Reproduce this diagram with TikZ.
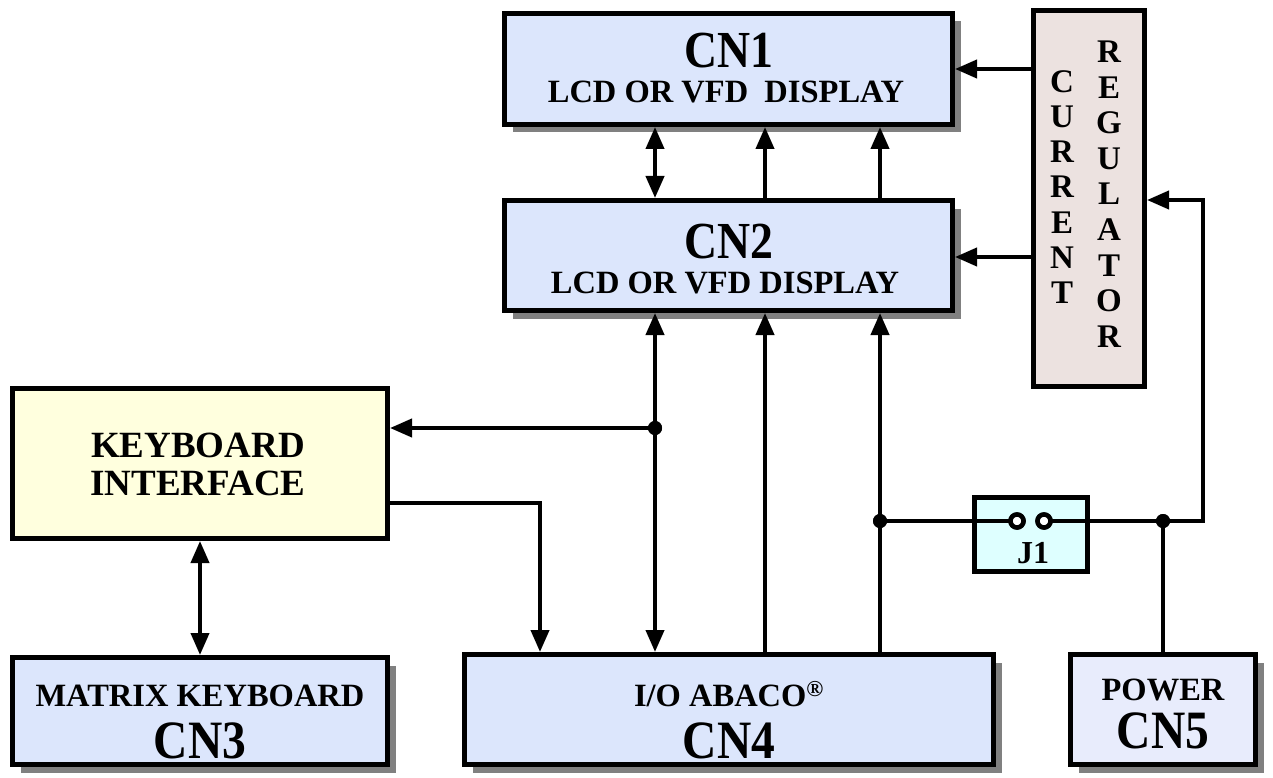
\documentclass[tikz,border=0pt]{standalone}
\usepackage{fontspec}
\setmainfont{Liberation Serif}
\newfontfamily\bigfont[FakeStretch=0.88]{Liberation Serif}
\usetikzlibrary{arrows.meta,shadows}
\definecolor{boxblue}{RGB}{220,230,252}
\definecolor{boxblue2}{RGB}{232,236,252}
\definecolor{kiyellow}{RGB}{255,255,222}
\definecolor{regfill}{RGB}{236,226,224}
\definecolor{jfill}{RGB}{222,255,255}
\definecolor{shadowgray}{RGB}{128,128,128}
\begin{document}
\begin{tikzpicture}[x=1pt,y=-1pt,
  blk/.style={draw,line width=5pt,inner sep=0pt,fill=boxblue},
  shd/.style={drop shadow={shadow xshift=8pt,shadow yshift=-8pt,fill=shadowgray,opacity=1}},
  wire/.style={line width=4pt},
  arr/.style={wire,-{Triangle[length=22pt,width=18pt]}},
  darr/.style={wire,{Triangle[length=22pt,width=18pt]}-{Triangle[length=22pt,width=18pt]}},
  big/.style={font=\bigfont\fontsize{52}{52}\selectfont\bfseries,anchor=base,inner sep=0pt},
  bigb/.style={font=\bigfont\fontsize{54}{54}\selectfont\bfseries,anchor=base,inner sep=0pt},
  sub/.style={font=\fontsize{32.5}{32.5}\selectfont\bfseries,anchor=base,inner sep=0pt},
  kitxt/.style={font=\fontsize{37}{37}\selectfont\bfseries,anchor=base,inner sep=0pt},
  regtxt/.style={align=center,inner sep=0pt},
  dot/.style={circle,fill,inner sep=0pt,minimum size=14pt},
  jpin/.style={circle,draw,line width=4.5pt,fill=white,inner sep=0pt,minimum size=13pt}
]
\fill[white] (0,0) rectangle (1273,778);
\useasboundingbox (0,0) rectangle (1273,778);

% boxes
\node[blk,shd,minimum width=448pt,minimum height=111pt] (cn1) at (728.5,69) {};
\node[blk,shd,minimum width=448pt,minimum height=110pt] (cn2) at (728.5,255.5) {};
\node[blk,fill=regfill,minimum width=111pt,minimum height=376pt] (reg) at (1089,198.5) {};
\node[blk,fill=kiyellow,minimum width=375pt,minimum height=150pt] (ki) at (200,463.5) {};
\node[blk,shd,minimum width=375pt,minimum height=107pt] (cn3) at (200,711) {};
\node[blk,shd,minimum width=529pt,minimum height=110pt] (cn4) at (729,709.5) {};
\node[blk,shd,fill=boxblue2,minimum width=185pt,minimum height=110pt] (cn5) at (1163,709.5) {};
\node[blk,fill=jfill,minimum width=113pt,minimum height=74pt] (j1) at (1031,534.5) {};

% texts
\node[big] (cn1a) at (728.5,68) {CN1};
\node[sub] (cn1b) at (726,103) {LCD OR VFD\ \ DISPLAY};
\node[big] (cn2a) at (728.5,258) {CN2};
\node[sub] (cn2b) at (725,293) {LCD OR VFD DISPLAY};
\node[kitxt] (kia) at (198,457) {KEYBOARD};
\node[kitxt] (kib) at (198,495) {INTERFACE};
\node[sub] (cn3a) at (200,706) {MATRIX KEYBOARD};
\node[bigb] (cn3b) at (200,758) {CN3};
\node[sub] (cn4a) at (729,706) {I/O ABACO\textsuperscript{®}};
\node[bigb] (cn4b) at (729,758) {CN4};
\node[sub] (cn5a) at (1163,700) {POWER};
\node[bigb] (cn5b) at (1163,748) {CN5};
\node[sub,font=\fontsize{32}{32}\selectfont\bfseries] (j1t) at (1033,563) {J1};
\node[regtxt,font=\fontsize{33}{35.2}\selectfont\bfseries] (regc) at (1062,187) {C\\U\\R\\R\\E\\N\\T};
\node[regtxt,font=\fontsize{33}{35.6}\selectfont\bfseries] (regr) at (1109,194) {R\\E\\G\\U\\L\\A\\T\\O\\R};

% coordinates
\coordinate (xa) at (655,0);
\coordinate (xb) at (765,0);
\coordinate (xc) at (880,0);
\node[dot] (d1) at (655,428) {};
\node[dot] (d2) at (880,521) {};
\node[dot] (d3) at (1163,521) {};
\coordinate (c1) at (1203,521);
\coordinate (k2) at (540,503);
\node[jpin] (p1) at (1017,521) {};
\node[jpin] (p2) at (1044,521) {};

% connectors
\draw[arr] (reg.west |- cn1.east) -- (cn1.east);
\draw[arr] (reg.west |- 0,257) -- (cn2.east |- 0,257);
\draw[darr] (cn2.north -| xa) -- (cn1.south -| xa);
\draw[arr] (cn2.north -| xb) -- (cn1.south -| xb);
\draw[arr] (cn2.north -| xc) -- (cn1.south -| xc);
\draw[darr] (cn4.north -| xa) -- (cn2.south -| xa);
\draw[arr] (cn4.north -| xb) -- (cn2.south -| xb);
\draw[arr] (cn4.north -| xc) -- (cn2.south -| xc);
\draw[arr] (d1.center) -- (d1 -| ki.east);
\draw[wire] (d2.center) -- (p1.center);
\draw[arr] (p2.center) -- (c1) |- (reg.east |- 0,200);
\draw[wire] (d3.center) -- (cn5.north);
\draw[darr] (ki.south) -- (cn3.north);
\draw[arr] (ki.east |- k2) -- (k2) -- (k2 |- cn4.north);
\node[jpin] (p1b) at (p1) {};
\node[jpin] (p2b) at (p2) {};
\node[dot] (d1b) at (d1) {};
\node[dot] (d2b) at (d2) {};
\node[dot] (d3b) at (d3) {};
\end{tikzpicture}
\end{document}
